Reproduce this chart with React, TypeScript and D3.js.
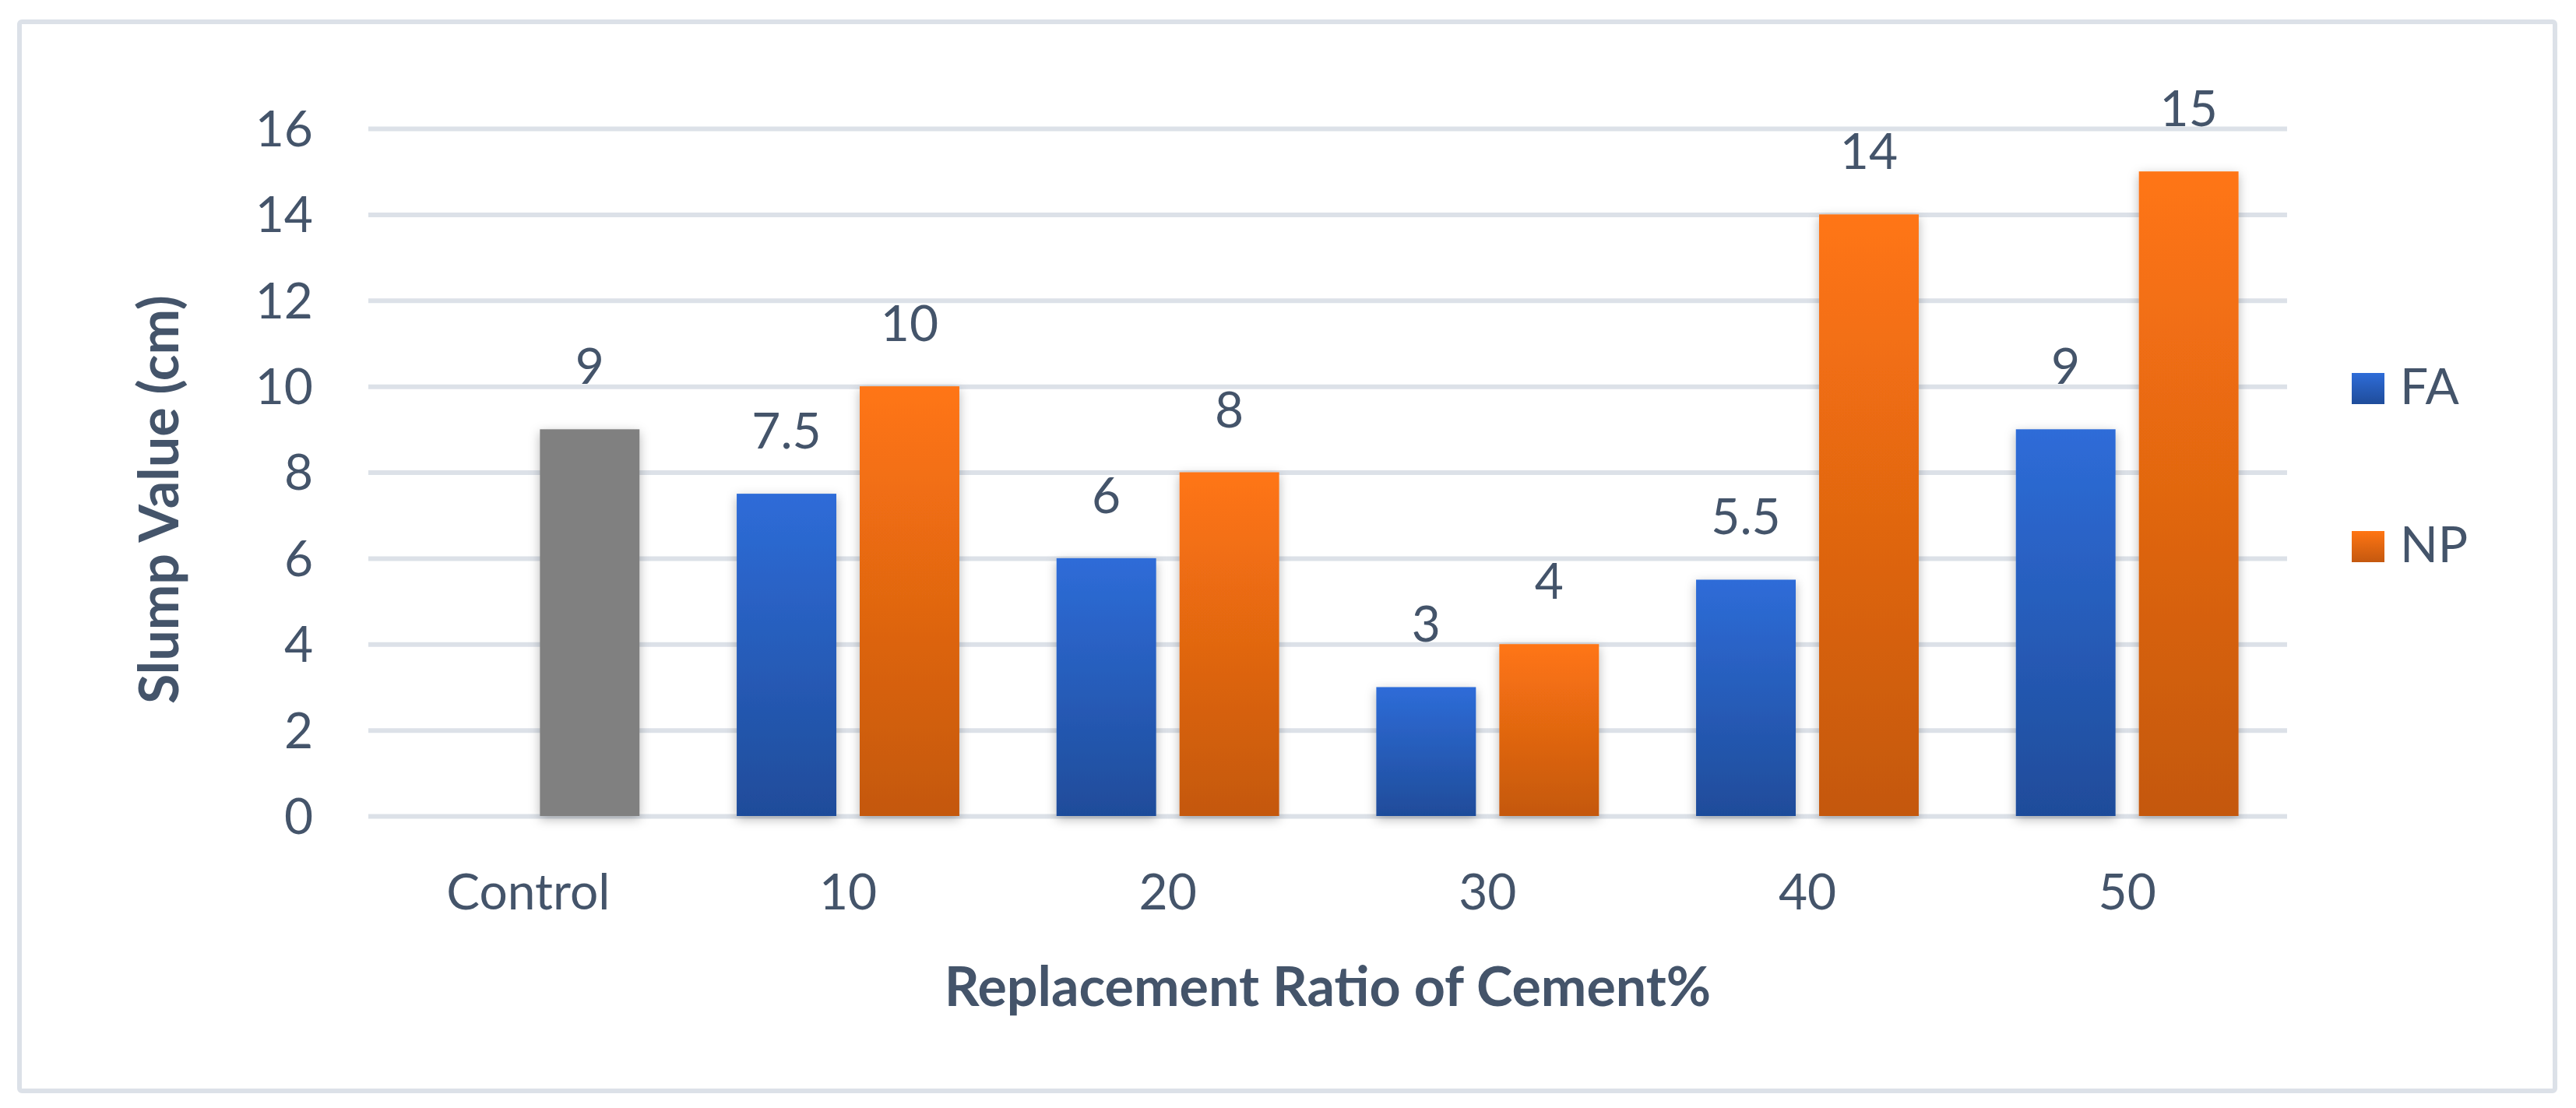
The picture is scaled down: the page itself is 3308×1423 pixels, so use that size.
// SlumpChart App.tsx
import * as d3 from "d3";
import { useEffect, useRef } from "react";

const categories = ["Control", "10", "20", "30", "40", "50"];
const seriesNames = ["FA", "NP"];
const faValues: (number | null)[] = [null, 7.5, 6, 3, 5.5, 9];
const npValues: (number | null)[] = [9, 10, 8, 4, 14, 15];
const yTicks = [0, 2, 4, 6, 8, 10, 12, 14, 16];
const xTitle = "Replacement Ratio of Cement%";
const yTitle = "Slump Value (cm)";

const W = 3308;
const H = 1423;
const textColor = "#44546A";
const gridColor = "#DCE1E8";
const font = "Lato, 'Open Sans', sans-serif";

export default function App() {
  const ref = useRef<SVGSVGElement | null>(null);

  useEffect(() => {
    const svg = d3.select(ref.current);
    svg.selectAll("*").remove();

    const plot = { left: 473, right: 2937, top: 165, bottom: 1048 };

    const defs = svg.append("defs");
    const grad = (id: string, top: string, bottom: string) => {
      const g = defs
        .append("linearGradient")
        .attr("id", id)
        .attr("x1", 0)
        .attr("y1", 0)
        .attr("x2", 0)
        .attr("y2", 1);
      g.append("stop").attr("offset", "0%").attr("stop-color", top);
      g.append("stop").attr("offset", "100%").attr("stop-color", bottom);
    };
    grad("blueGrad", "#2E6CD8", "#1F4C9A");
    grad("orangeGrad", "#FF7513", "#C4580F");
    grad("grayGrad", "#808080", "#808080");

    defs
      .append("filter")
      .attr("id", "shadow")
      .attr("x", "-30%")
      .attr("y", "-10%")
      .attr("width", "160%")
      .attr("height", "120%")
      .append("feDropShadow")
      .attr("dx", 0)
      .attr("dy", 4)
      .attr("stdDeviation", 7)
      .attr("flood-color", "#000")
      .attr("flood-opacity", 0.28);

    // frame
    svg
      .append("rect")
      .attr("x", 25)
      .attr("y", 28)
      .attr("width", 3256)
      .attr("height", 1373)
      .attr("rx", 3)
      .attr("fill", "#fff")
      .attr("stroke", gridColor)
      .attr("stroke-width", 6);

    const x0 = d3
      .scaleBand()
      .domain(categories)
      .range([plot.left, plot.right])
      .paddingInner(0)
      .paddingOuter(0);

    const x1 = d3
      .scaleBand()
      .domain(seriesNames)
      .range([0, x0.bandwidth()])
      .paddingInner(0.19)
      .paddingOuter(0.395);

    const y = d3.scaleLinear().domain([0, 16]).range([plot.bottom, plot.top]);

    // gridlines + y labels
    const yAxis = d3
      .axisLeft(y)
      .tickValues(yTicks)
      .tickSize(-(plot.right - plot.left))
      .tickPadding(71)
      .tickFormat((d) => String(d));

    const gy = svg
      .append("g")
      .attr("transform", `translate(${plot.left},0)`)
      .call(yAxis);
    gy.select(".domain").remove();
    gy.selectAll("line").attr("stroke", gridColor).attr("stroke-width", 6);
    gy.selectAll("text")
      .attr("fill", textColor)
      .attr("font-family", font)
      .attr("font-size", 64)
      .attr("dy", "0.35em");

    // x labels
    const xAxis = d3.axisBottom(x0).tickSize(0);
    const gx = svg
      .append("g")
      .attr("transform", `translate(0,${plot.bottom})`)
      .call(xAxis);
    gx.select(".domain").remove();
    gx.selectAll("text")
      .attr("y", 120)
      .attr("dy", 0)
      .attr("fill", textColor)
      .attr("font-family", font)
      .attr("font-size", 64);

    const rows = categories.map((c, i) => ({
      cat: c,
      values: [
        { key: "FA", value: faValues[i], fill: "url(#blueGrad)" },
        {
          key: "NP",
          value: npValues[i],
          fill: i === 0 ? "url(#grayGrad)" : "url(#orangeGrad)",
        },
      ],
    }));

    const groups = svg
      .append("g")
      .selectAll("g")
      .data(rows)
      .join("g")
      .attr("transform", (d) => `translate(${x0(d.cat)},0)`);

    const bars = groups
      .selectAll("g")
      .data((d) => d.values.filter((v) => v.value !== null))
      .join("g");

    bars
      .append("rect")
      .attr("x", (d) => x1(d.key)!)
      .attr("y", (d) => y(d.value as number))
      .attr("width", x1.bandwidth())
      .attr("height", (d) => y(0) - y(d.value as number))
      .attr("fill", (d) => d.fill)
      .attr("filter", "url(#shadow)");

    bars
      .append("text")
      .attr("x", (d) => x1(d.key)! + x1.bandwidth() / 2)
      .attr("y", (d) => y(d.value as number) - 58)
      .attr("text-anchor", "middle")
      .attr("fill", textColor)
      .attr("font-family", font)
      .attr("font-size", 64)
      .text((d) => String(d.value));

    // axis titles
    svg
      .append("text")
      .attr("x", (plot.left + plot.right) / 2)
      .attr("y", 1292)
      .attr("text-anchor", "middle")
      .attr("fill", textColor)
      .attr("font-family", font)
      .attr("font-weight", "bold")
      .attr("font-size", 70)
      .text(xTitle);

    svg
      .append("text")
      .attr("transform", `translate(229,${(plot.top + plot.bottom) / 2 + 35}) rotate(-90)`)
      .attr("text-anchor", "middle")
      .attr("fill", textColor)
      .attr("font-family", font)
      .attr("font-weight", "bold")
      .attr("font-size", 70)
      .text(yTitle);

    // legend
    const legendFills = ["url(#blueGrad)", "url(#orangeGrad)"];
    const legend = svg
      .append("g")
      .selectAll("g")
      .data(seriesNames)
      .join("g")
      .attr("transform", (_, i) => `translate(3020,${479 + i * 203})`);
    legend
      .append("rect")
      .attr("width", 42)
      .attr("height", 40)
      .attr("fill", (_, i) => legendFills[i]);
    legend
      .append("text")
      .attr("x", 62)
      .attr("y", 40)
      .attr("fill", textColor)
      .attr("font-family", font)
      .attr("font-size", 64)
      .text((d) => d);
  }, []);

  return (
    <svg
      ref={ref}
      width={W}
      height={H}
      style={{ position: "absolute", left: 0, top: 0, background: "#fff" }}
    ></svg>
  );
}
